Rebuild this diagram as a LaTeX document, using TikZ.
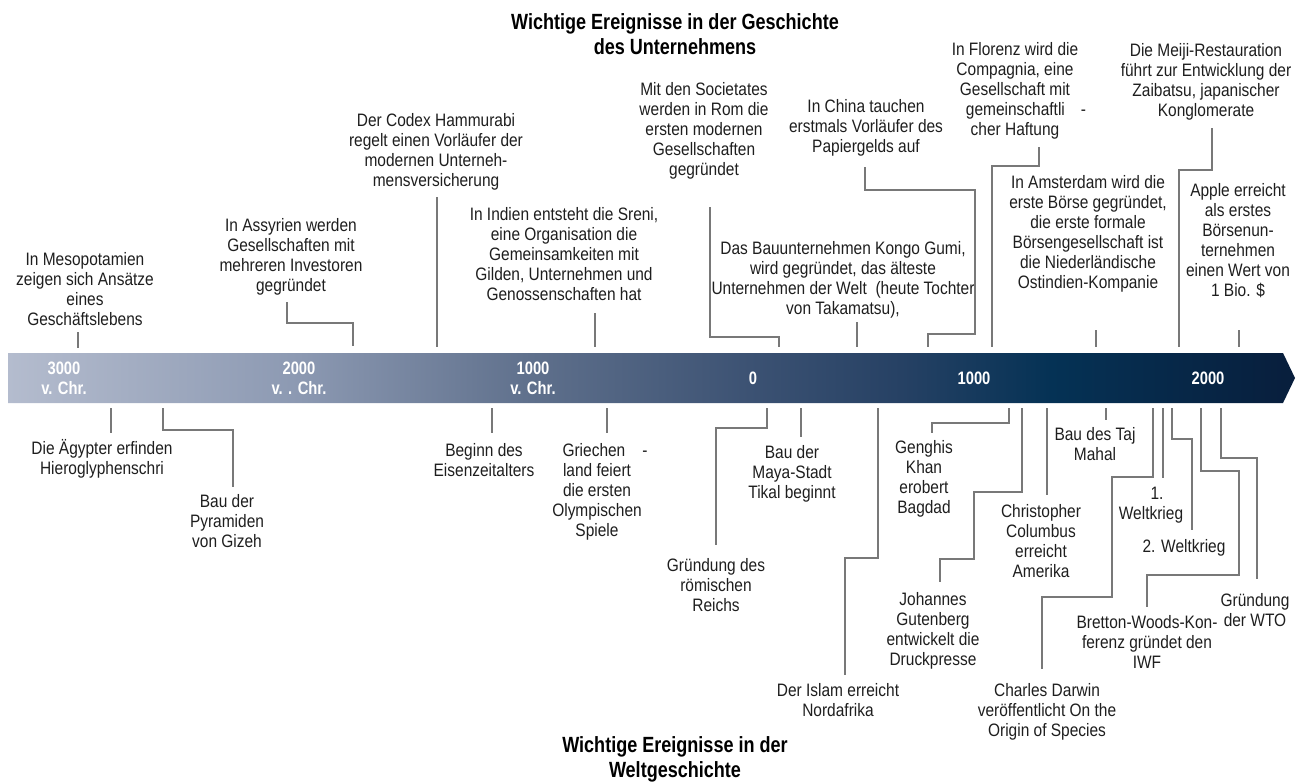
\documentclass[tikz,border=0pt]{standalone}
\usepackage{fontspec}
\setmainfont{Liberation Sans}[FakeStretch=0.86]
\newfontfamily\hdfont{Liberation Sans}[FakeStretch=0.82]
\definecolor{c0}{HTML}{B4BCCE}
\definecolor{c1}{HTML}{8C99B2}
\definecolor{c2}{HTML}{5F708C}
\definecolor{c3}{HTML}{3C5273}
\definecolor{c4}{HTML}{264164}
\definecolor{c5}{HTML}{053255}
\definecolor{c6}{HTML}{081E3C}
\definecolor{ln}{RGB}{120,120,120}
\definecolor{txt}{RGB}{30,30,30}
\pgfdeclarehorizontalshading{tlshade}{100bp}{color(0bp)=(c0); color(25bp)=(c0); color(36.3bp)=(c1); color(45.3bp)=(c2); color(53.8bp)=(c3); color(59.7bp)=(c4); color(65.5bp)=(c5); color(75bp)=(c6); color(100bp)=(c6)}
\begin{document}
\begin{tikzpicture}[x=1pt,y=-1pt,
  ev/.style={font=\fontsize{18}{20}\selectfont, align=center, inner sep=0pt, anchor=north, text=txt},
  conn/.style={draw=ln, line width=1.3pt},
  yr/.style={font=\hdfont\bfseries\fontsize{18}{20}\selectfont, align=center, inner sep=0pt, text=white},
  ttl/.style={font=\hdfont\bfseries\fontsize{22}{25}\selectfont, align=center, inner sep=0pt, anchor=north, text=black}]
\useasboundingbox (0,0) rectangle (1304,784);

% timeline bar
\shade[shading=tlshade] (8,353) -- (1283,353) -- (1295,378) -- (1283,403) -- (8,403) -- cycle;
\node[yr] (y3000) at (64,378) {3000\\v. Chr.};
\node[yr] (y2000) at (299,378) {2000\\v. . Chr.};
\node[yr] (y1000) at (533,378) {1000\\v. Chr.};
\node[yr] (y0) at (753,378) {0};
\node[yr] (n1000) at (974,378) {1000};
\node[yr] (n2000) at (1208,378) {2000};

% titles
\node[ttl] (top) at (675,13) {Wichtige Ereignisse in der Geschichte\\des Unternehmens};
\node[ttl] (bot) at (675,736) {Wichtige Ereignisse in der\\Weltgeschichte};

% upper events
\node[ev] (meso) at (85,252) {In Mesopotamien\\zeigen sich Ansätze\\eines\\Geschäftslebens};
\node[ev] (assy) at (291,218) {In Assyrien werden\\Gesellschaften mit\\mehreren Investoren\\gegründet};
\node[ev] (hamm) at (436,113) {Der Codex Hammurabi\\regelt einen Vorläufer der\\modernen Unterneh-\\mensversicherung};
\node[ev] (soc) at (704,82) {Mit den Societates\\werden in Rom die\\ersten modernen\\Gesellschaften\\gegründet};
\node[ev] (sreni) at (564,207) {In Indien entsteht die Sreni,\\eine Organisation die\\Gemeinsamkeiten mit\\Gilden, Unternehmen und\\Genossenschaften hat};
\node[ev] (kongo) at (843,241) {Das Bauunternehmen Kongo Gumi,\\wird gegründet, das älteste\\Unternehmen der Welt\ \ (heute Tochter\\von Takamatsu),};
\node[ev] (china) at (866,99) {In China tauchen\\erstmals Vorläufer des\\Papiergelds auf};
\node[ev] (flor) at (1015,42) {In Florenz wird die\\Compagnia, eine\\Gesellschaft mit\\\hspace*{22pt}gemeinschaftli\hspace{16pt}-\\cher Haftung};
\node[ev] (meiji) at (1206,43) {Die Meiji-Restauration\\führt zur Entwicklung der\\Zaibatsu, japanischer\\Konglomerate};
\node[ev] (amst) at (1088,175) {In Amsterdam wird die\\erste Börse gegründet,\\die erste formale\\Börsengesellschaft ist\\die Niederländische\\Ostindien-Kompanie};
\node[ev] (apple) at (1238,183) {Apple erreicht\\als erstes\\Börsenun-\\ternehmen\\einen Wert von\\1 Bio. \$};

% lower events
\node[ev] (aeg) at (102,439) {Die Ägypter erfinden\\Hieroglyphenschri};
\node[ev] (pyr) at (227,494) {Bau der\\Pyramiden\\von Gizeh};
\node[ev] (eisen) at (484,443) {Beginn des\\Eisenzeitalters};
\node[ev] (griech) at (597,443) {\hspace*{16pt}Griechen\hspace{17pt}-\\land feiert\\die ersten\\Olympischen\\Spiele};
\node[ev] (rom) at (716,558) {Gründung des\\römischen\\Reichs};
\node[ev] (maya) at (792,445) {Bau der\\Maya-Stadt\\Tikal beginnt};
\node[ev] (islam) at (838,683) {Der Islam erreicht\\Nordafrika};
\node[ev] (genghis) at (924,440) {Genghis\\Khan\\erobert\\Bagdad};
\node[ev] (guten) at (933,592) {Johannes\\Gutenberg\\entwickelt die\\Druckpresse};
\node[ev] (colum) at (1041,504) {Christopher\\Columbus\\erreicht\\Amerika};
\node[ev] (taj) at (1095,427) {Bau des Taj\\Mahal};
\node[ev] (darwin) at (1047,683) {Charles Darwin\\veröffentlicht On the\\Origin of Species};
\node[ev] (wk1) at (1151,487) {\hspace*{12pt}1.\\Weltkrieg};
\node[ev] (wk2) at (1184,539) {2. Weltkrieg};
\node[ev] (bretton) at (1147,615) {Bretton-Woods-Kon-\\ferenz gründet den\\IWF};
\node[ev] (wto) at (1255,593) {Gründung\\der WTO};

% upper connectors
\coordinate (mesoA) at (78,332); \coordinate (mesoB) at (78,348);
\draw[conn] (mesoA) -- (mesoB);
\coordinate (assyA) at (287,302); \coordinate (assyB) at (353,346);
\draw[conn] (assyA) -- (287,323) -- (353,323) -- (assyB);
\coordinate (hammA) at (437,197); \coordinate (hammB) at (437,347);
\draw[conn] (hammA) -- (hammB);
\coordinate (sreniA) at (595,313); \coordinate (sreniB) at (595,347);
\draw[conn] (sreniA) -- (sreniB);
\coordinate (socA) at (710,207); \coordinate (socB) at (779,347);
\draw[conn] (socA) -- (710,337) -- (779,337) -- (socB);
\coordinate (kongoA) at (857,322); \coordinate (kongoB) at (857,347);
\draw[conn] (kongoA) -- (kongoB);
\coordinate (chinaA) at (865,167); \coordinate (chinaB) at (928,347);
\draw[conn] (chinaA) -- (865,190) -- (975,190) -- (975,334) -- (928,334) -- (chinaB);
\coordinate (florA) at (1039,147); \coordinate (florB) at (992,347);
\draw[conn] (florA) -- (1039,166) -- (992,166) -- (florB);
\coordinate (meijiA) at (1212,128); \coordinate (meijiB) at (1179,347);
\draw[conn] (meijiA) -- (1212,170) -- (1179,170) -- (meijiB);
\coordinate (amstA) at (1096,330); \coordinate (amstB) at (1096,347);
\draw[conn] (amstA) -- (amstB);
\coordinate (appleA) at (1239,330); \coordinate (appleB) at (1239,347);
\draw[conn] (appleA) -- (appleB);

% lower connectors
\coordinate (aegA) at (111,408); \coordinate (aegB) at (111,433);
\draw[conn] (aegA) -- (aegB);
\coordinate (pyrA) at (163,408); \coordinate (pyrB) at (233,487);
\draw[conn] (pyrA) -- (163,430) -- (233,430) -- (pyrB);
\coordinate (eisenA) at (492,408); \coordinate (eisenB) at (492,433);
\draw[conn] (eisenA) -- (eisenB);
\coordinate (griechA) at (607,408); \coordinate (griechB) at (607,433);
\draw[conn] (griechA) -- (griechB);
\coordinate (romA) at (767,408); \coordinate (romB) at (716,545);
\draw[conn] (romA) -- (767,428) -- (716,428) -- (romB);
\coordinate (mayaA) at (801,408); \coordinate (mayaB) at (801,437);
\draw[conn] (mayaA) -- (mayaB);
\coordinate (islamA) at (878,408); \coordinate (islamB) at (845,675);
\draw[conn] (islamA) -- (878,558) -- (845,558) -- (islamB);
\coordinate (genghisA) at (1009,408); \coordinate (genghisB) at (932,433);
\draw[conn] (genghisA) -- (1009,423) -- (932,423) -- (genghisB);
\coordinate (gutenA) at (1022,408); \coordinate (gutenB) at (940,582);
\draw[conn] (gutenA) -- (1022,492) -- (974,492) -- (974,559) -- (940,559) -- (gutenB);
\coordinate (columA) at (1047,408); \coordinate (columB) at (1047,495);
\draw[conn] (columA) -- (columB);
\coordinate (tajA) at (1106,408); \coordinate (tajB) at (1106,420);
\draw[conn] (tajA) -- (tajB);
\coordinate (darwinA) at (1153,408); \coordinate (darwinB) at (1042,669);
\draw[conn] (darwinA) -- (1153,477) -- (1112,477) -- (1112,597) -- (1042,597) -- (darwinB);
\coordinate (wkaA) at (1163,408); \coordinate (wkaB) at (1163,478);
\draw[conn] (wkaA) -- (wkaB);
\coordinate (wkbA) at (1172,408); \coordinate (wkbB) at (1192,530);
\draw[conn] (wkbA) -- (1172,439) -- (1192,439) -- (wkbB);
\coordinate (brettonA) at (1201,408); \coordinate (brettonB) at (1147,607);
\draw[conn] (brettonA) -- (1201,471) -- (1239,471) -- (1239,575) -- (1147,575) -- (brettonB);
\coordinate (wtoA) at (1221,408); \coordinate (wtoB) at (1257,579);
\draw[conn] (wtoA) -- (1221,458) -- (1257,458) -- (wtoB);
\end{tikzpicture}
\end{document}
